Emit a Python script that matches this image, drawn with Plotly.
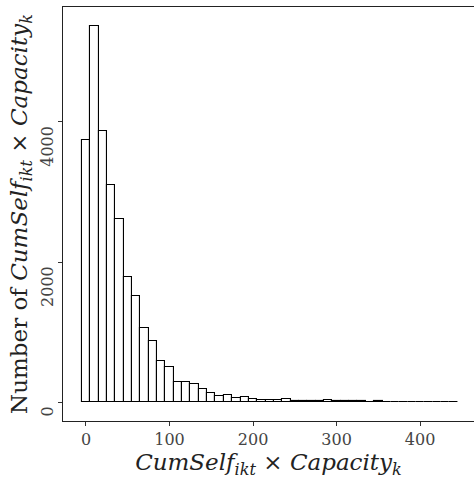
import plotly.graph_objects as go

# Bin centers (binwidth 10) and counts
bin_centers = [0, 10, 20, 30, 40, 50, 60, 70, 80, 90,
               100, 110, 120, 130, 140, 150, 160, 170, 180, 190,
               200, 210, 220, 230, 240, 250, 260, 270, 280, 290,
               300, 310, 320, 330, 340, 350, 360, 370, 380, 390,
               400, 410, 420, 430, 440]
counts = [3742, 5370, 3866, 3101, 2607, 1791, 1520, 1060, 879, 584,
          500, 295, 292, 260, 193, 135, 83, 97, 66, 80,
          44, 36, 25, 25, 48, 24, 16, 15, 12, 36,
          12, 14, 10, 11, 9, 13, 8, 6, 7, 5,
          6, 4, 5, 3, 4]
x_ticks = [0, 100, 200, 300, 400]
y_ticks = [0, 2000, 4000]
y_tick_labels = ["0", "2000", "4000"]

FONT = "DejaVu Serif"
TICK_SIZE = 16
TITLE_SIZE = 23

# pad rotated y labels to equal length (figure spaces) so that they all end at the tick
y_tick_text = ["\u2007" * (4 - len(t)) + t for t in y_tick_labels]

fig = go.Figure(go.Bar(
    x=bin_centers, y=counts, width=10,
    marker=dict(color="white", line=dict(color="black", width=1.1)),
))

fig.update_layout(
    width=475, height=482,
    margin=dict(l=63, r=1, t=7, b=61),
    paper_bgcolor="white", plot_bgcolor="white",
    showlegend=False,
    font=dict(family=FONT, color="#333333"),
    bargap=0,
)
fig.update_xaxes(
    range=[-27.5, 464.5],
    tickvals=x_ticks, ticktext=[str(v) for v in x_ticks],
    ticks="outside", ticklen=4, tickcolor="#333333", tickwidth=1,
    tickfont=dict(family=FONT, size=TICK_SIZE, color="#444444"),
    showline=True, linecolor="#222222", linewidth=1.2, mirror=True,
    showgrid=False, zeroline=False,
    title=dict(text="<i>CumSelf</i><sub><i>ikt</i></sub> × <i>Capacity</i><sub><i>k</i></sub>",
               font=dict(family=FONT, size=TITLE_SIZE, color="#222222"), standoff=2),
)
fig.update_yaxes(
    range=[-268.5, 5638.5],
    tickvals=y_ticks, ticktext=y_tick_text,
    tickangle=-90, ticklabelshift=27, ticklabelstandoff=-1,
    ticks="outside", ticklen=4, tickcolor="#333333", tickwidth=1,
    tickfont=dict(family=FONT, size=TICK_SIZE, color="#444444"),
    showline=True, linecolor="#222222", linewidth=1.2, mirror=False,
    showgrid=False, zeroline=False,
    title=dict(text="Number of <i>CumSelf</i><sub><i>ikt</i></sub> × <i>Capacity</i><sub><i>k</i></sub>",
               font=dict(family=FONT, size=TITLE_SIZE, color="#222222"), standoff=3),
)

fig.write_html("out.html")
